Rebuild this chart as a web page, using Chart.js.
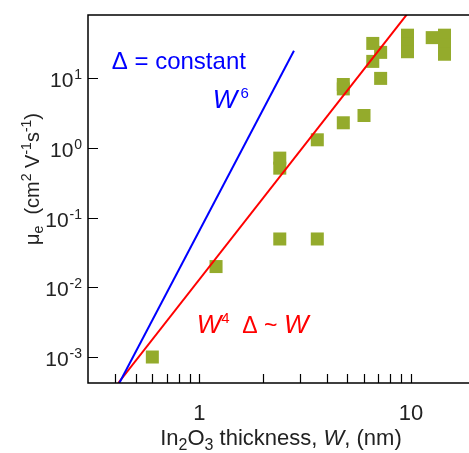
<!DOCTYPE html>
<html>
<head>
<meta charset="utf-8">
<script src="https://cdn.jsdelivr.net/npm/chart.js@4.4.0/dist/chart.umd.min.js"></script>
<style>
html, body { margin: 0; padding: 0; background: #fff; overflow: hidden; }
</style>
</head>
<body>
<canvas id="muChart" width="469" height="453"></canvas>
<script>
// In2O3 thickness W (nm) and electron mobility (cm2/Vs)
var thickness = [0.60, 1.20, 2.40, 2.40, 2.40, 3.61, 3.61, 4.79, 4.79, 4.79, 6.0,
                 6.6, 6.6, 7.19, 7.19, 9.63, 9.63, 9.63, 12.6, 14.4, 14.4, 14.4];
var mobility = [0.001, 0.0198, 0.0492, 0.51, 0.71, 0.0492, 1.30, 2.28, 6.98, 8.07, 2.9,
                31.3, 17.3, 23.3, 9.87, 41.1, 31.1, 23.8, 37.9, 41.1, 30, 21.9];

// guide lines, end points: W^6 (delta constant) and W^4 (delta ~ W)
var w6Thickness = [0.419, 2.80];
var w6Mobility = [4.24e-4, 24.6];
var w4Thickness = [0.414, 9.55];
var w4Mobility = [4.24e-4, 81];

// axis ticks
var xTickLabels = [1, 10];
var xMinorTicks = [0.4, 0.5, 0.6, 0.7, 0.8, 0.9, 2, 3, 4, 5, 6, 7, 8, 9];
var yTickExponents = [-3, -2, -1, 0, 1];

var FONT = '"Liberation Sans", Arial, sans-serif';

function toPoints(xs, ys) {
    return xs.map(function(x, i) { return {x: x, y: ys[i]}; });
}

// draw a run of text pieces: [text, font, raise]
function drawRich(ctx, parts, x, y, align) {
    var total = 0;
    parts.forEach(function(p) { ctx.font = p[1]; total += ctx.measureText(p[0]).width; });
    if (align === 'right') x -= total;
    else if (align === 'center') x -= total / 2;
    parts.forEach(function(p) {
        ctx.font = p[1];
        ctx.fillText(p[0], x, y - (p[2] || 0));
        x += ctx.measureText(p[0]).width;
    });
}

var axesPlugin = {
    id: 'axesPlugin',
    afterDraw: function(chart) {
        var ctx = chart.ctx;
        var a = chart.chartArea;
        var xs = chart.scales.x, ys = chart.scales.y;
        ctx.save();
        ctx.textAlign = 'left';
        ctx.textBaseline = 'alphabetic';

        // frame: left, bottom, top
        ctx.strokeStyle = '#000';
        ctx.lineWidth = 1.5;
        ctx.beginPath();
        ctx.moveTo(a.right, a.top);
        ctx.lineTo(a.left, a.top);
        ctx.lineTo(a.left, a.bottom);
        ctx.lineTo(a.right, a.bottom);
        ctx.stroke();

        // inward ticks
        ctx.lineWidth = 1.2;
        ctx.beginPath();
        xTickLabels.concat(xMinorTicks).forEach(function(v) {
            var px = Math.round(xs.getPixelForValue(v)) + 0.5;
            ctx.moveTo(px, a.bottom);
            ctx.lineTo(px, a.bottom - 9);
        });
        yTickExponents.forEach(function(e) {
            var py = Math.round(ys.getPixelForValue(Math.pow(10, e))) + 0.5;
            ctx.moveTo(a.left, py);
            ctx.lineTo(a.left + 10, py);
        });
        ctx.stroke();

        // tick labels
        ctx.fillStyle = '#222';
        yTickExponents.forEach(function(e) {
            var py = ys.getPixelForValue(Math.pow(10, e));
            drawRich(ctx, [['10', '21px ' + FONT, 0], [' ', '3px ' + FONT, 0], [String(e), '14px ' + FONT, 8]],
                     a.left - 6, py + 9, 'right');
        });
        xTickLabels.forEach(function(v) {
            ctx.font = '22px ' + FONT;
            ctx.textAlign = 'center';
            ctx.fillText(String(v), xs.getPixelForValue(v), a.bottom + 37);
            ctx.textAlign = 'left';
        });

        // axis titles
        drawRich(ctx, [
            ['In', '22px ' + FONT, 0], ['2', '16px ' + FONT, -5],
            ['O', '22px ' + FONT, 0], ['3', '16px ' + FONT, -5],
            [' thickness, ', '22px ' + FONT, 0], ['W', 'italic 22px ' + FONT, 0],
            [', (nm)', '22px ' + FONT, 0]
        ], 281, 445, 'center');

        ctx.save();
        ctx.translate(39, 179);
        ctx.rotate(-Math.PI / 2);
        drawRich(ctx, [
            ['\u03bc', '20px ' + FONT, 0], ['e', '14px ' + FONT, -4],
            ['  (cm', '20px ' + FONT, 0], ['2', '14px ' + FONT, 8],
            [' V', '20px ' + FONT, 0], ['-1', '14px ' + FONT, 8],
            ['s', '20px ' + FONT, 0], ['-1', '14px ' + FONT, 8],
            [')', '20px ' + FONT, 0]
        ], 0, 0, 'center');
        ctx.restore();

        // annotations
        ctx.fillStyle = '#0000ff';
        drawRich(ctx, [['\u0394 = constant', '24px ' + FONT, 0]],
                 xs.getPixelForValue(0.386), ys.getPixelForValue(13.6), 'left');
        drawRich(ctx, [['W', 'italic 26px ' + FONT, 0], [' ', '12px ' + FONT, 0], ['6', '15px ' + FONT, 10]],
                 xs.getPixelForValue(1.157), ys.getPixelForValue(3.75), 'left');

        ctx.fillStyle = '#ff0000';
        drawRich(ctx, [
            ['W', 'italic 26px ' + FONT, 0], ['4', '15px ' + FONT, 10],
            ['  \u0394 ~ ', '23px ' + FONT, 0], ['W', 'italic 26px ' + FONT, 0]
        ], xs.getPixelForValue(0.972), ys.getPixelForValue(0.00222), 'left');

        ctx.restore();
    }
};

var ctx = document.getElementById('muChart').getContext('2d');
var myChart = new Chart(ctx, {
    type: 'scatter',
    data: {
        datasets: [{
            label: 'W^6',
            type: 'line',
            data: toPoints(w6Thickness, w6Mobility),
            borderColor: '#0000ff',
            borderWidth: 2,
            pointRadius: 0,
            fill: false,
            order: 0
        }, {
            label: 'W^4',
            type: 'line',
            data: toPoints(w4Thickness, w4Mobility),
            borderColor: '#ff0000',
            borderWidth: 2,
            pointRadius: 0,
            fill: false,
            order: 0
        }, {
            label: 'mobility',
            data: toPoints(thickness, mobility),
            pointStyle: 'rect',
            pointRadius: 9.2,
            pointHoverRadius: 9.2,
            backgroundColor: '#94ab2c',
            borderColor: '#94ab2c',
            borderWidth: 0,
            order: 1
        }]
    },
    options: {
        responsive: false,
        animation: false,
        events: [],
        layout: {
            autoPadding: false,
            padding: { left: 88, top: 15, right: 0, bottom: 70 }
        },
        plugins: {
            legend: { display: false },
            tooltip: { enabled: false }
        },
        scales: {
            x: { type: 'logarithmic', min: 0.298, max: 18.8, display: false },
            y: { type: 'logarithmic', min: 4.24e-4, max: 80, display: false }
        }
    },
    plugins: [axesPlugin]
});
</script>
</body>
</html>
